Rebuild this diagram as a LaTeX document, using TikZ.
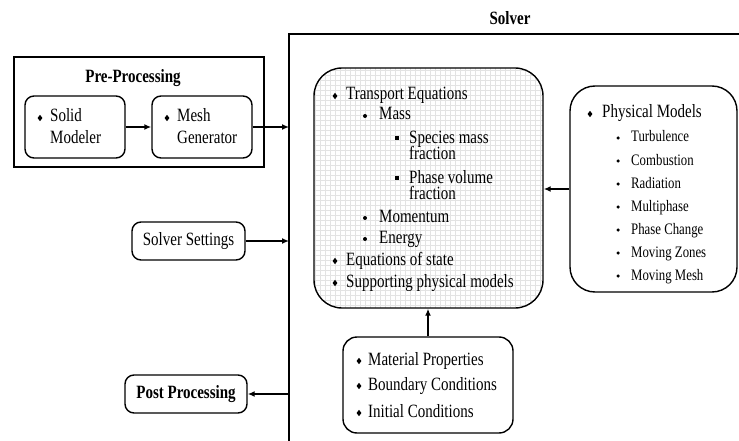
\documentclass[tikz,border=0pt]{standalone}
\usepackage{fontspec}
\setmainfont{Liberation Serif}
\usetikzlibrary{arrows.meta,shapes.geometric}
\newcommand\vs[1]{\scalebox{1}[1.25]{#1}}
\begin{document}
\begin{tikzpicture}[x=1pt,y=1pt,
  every node/.style={font=\fontsize{15}{18}\selectfont},
  box/.style={draw,line width=1.4pt,rounded corners=9pt,inner sep=0pt},
  txt/.style={anchor=base west,inner sep=0pt},
  small/.style={anchor=base west,inner sep=0pt,font=\fontsize{12.8}{15}\selectfont},
  dia/.style={diamond,fill,inner sep=0pt,minimum width=5pt,minimum height=6.5pt},
  dot/.style={circle,fill,inner sep=0pt,minimum size=4pt},
  sq/.style={rectangle,fill,inner sep=0pt,minimum size=4pt},
  arr/.style={line width=1.4pt,-{Latex[length=7pt,width=6pt]}}]
\useasboundingbox (0,0) rectangle (739,-441);
% Solver frame
\coordinate (sv0) at (289,-441);
\coordinate (sv1) at (289,-34);
\coordinate (sv2) at (739,-34);
\draw[line width=1.4pt] (sv0) -- (sv1) -- (sv2);
\node[font=\fontsize{15}{18}\selectfont\bfseries] (solvert) at (510,-18) {\vs{Solver}};
% Pre-processing
\node[draw,line width=1.4pt,minimum width=250pt,minimum height=110pt,inner sep=0pt] (pre) at (139,-112) {};
\node[font=\fontsize{15}{18}\selectfont\bfseries] (pret) at (133,-78) {\vs{Pre-Processing}};
\node[box,minimum width=100pt,minimum height=62pt] (solid) at (75,-127) {};
\node[box,minimum width=100pt,minimum height=62pt] (mesh) at (202,-127) {};
\node[dia] (bs) at (40,-118) {};
\node[txt] (ts1) at (50,-122) {\vs{Solid}};
\node[txt] (ts2) at (50,-143) {\vs{Modeler}};
\node[dia] (bm) at (167,-118) {};
\node[txt] (tm1) at (177,-122) {\vs{Mesh}};
\node[txt] (tm2) at (177,-143) {\vs{Generator}};
\draw[arr] (solid.east) -- (mesh.west);
\coordinate (in1) at (289,-127);
\draw[arr] (mesh.east) -- (in1);
% Solver settings / Post processing
\node[box,minimum width=113pt,minimum height=38pt] (sset) at (188.5,-241) {\vs{Solver Settings}};
\coordinate (in2) at (289,-241);
\draw[arr] (sset.east) -- (in2);
\node[box,minimum width=122pt,minimum height=38pt,font=\fontsize{15}{18}\selectfont\bfseries] (post) at (186,-394) {\vs{Post Processing}};
\coordinate (out1) at (289,-394);
\draw[arr] (out1) -- (post.east);
% Transport equations box
\begin{scope}
\clip[rounded corners=28pt] (314,-68) rectangle (543,-308);
\draw[gray!22,line width=0.4pt,step=5] (314,-308) grid (543,-68);
\end{scope}
\node[box,rounded corners=28pt,minimum width=229pt,minimum height=240pt] (trans) at (428.5,-188) {};
\node[dia] (bt1) at (335,-96) {};
\node[txt] (tt1) at (346,-100) {\vs{Transport Equations}};
\node[dot] (bt2) at (365,-116) {};
\node[txt] (tt2) at (379,-120) {\vs{Mass}};
\node[sq] (bt3) at (397,-138) {};
\node[txt] (tt3) at (409,-143) {\vs{Species mass}};
\node[txt] (tt3b) at (409,-160) {\vs{fraction}};
\node[sq] (bt4) at (397,-178) {};
\node[txt] (tt4) at (409,-183) {\vs{Phase volume}};
\node[txt] (tt4b) at (409,-200) {\vs{fraction}};
\node[dot] (bt5) at (365,-218) {};
\node[txt] (tt5) at (379,-222) {\vs{Momentum}};
\node[dot] (bt6) at (365,-239) {};
\node[txt] (tt6) at (379,-243) {\vs{Energy}};
\node[dia] (bt7) at (335,-261) {};
\node[txt] (tt7) at (346,-265) {\vs{Equations of state}};
\node[dia] (bt8) at (335,-283) {};
\node[txt] (tt8) at (346,-287) {\vs{Supporting physical models}};
% Physical models
\node[box,rounded corners=25pt,minimum width=167pt,minimum height=206pt] (phys) at (653.5,-189) {};
\node[dia] (bp0) at (590,-114) {};
\node[txt] (tp0) at (602,-118) {\vs{Physical Models}};
\foreach \n/\t/\yy in {1/Turbulence/142,2/Combustion/165,3/Radiation/188,4/Multiphase/211,5/Phase Change/234,6/Moving Zones/257,7/Moving Mesh/280}{
  \node[dot,minimum size=3.5pt] (bp\n) at (618,-\yy+4) {};
  \node[small] (tp\n) at (631,-\yy) {\vs{\t}};
}
\draw[arr] (phys.west) -- (trans.east |- phys.west);
% Material properties
\node[box,rounded corners=14pt,minimum width=170pt,minimum height=96pt] (mat) at (428,-385) {};
\node[dia] (bq1) at (359,-361) {};
\node[txt] (tq1) at (368,-365) {\vs{Material Properties}};
\node[dia] (bq2) at (359,-386) {};
\node[txt] (tq2) at (368,-390) {\vs{Boundary Conditions}};
\node[dia] (bq3) at (359,-413) {};
\node[txt] (tq3) at (368,-417) {\vs{Initial Conditions}};
\draw[arr] (mat.north) -- (mat.north |- trans.south);
\end{tikzpicture}
\end{document}
